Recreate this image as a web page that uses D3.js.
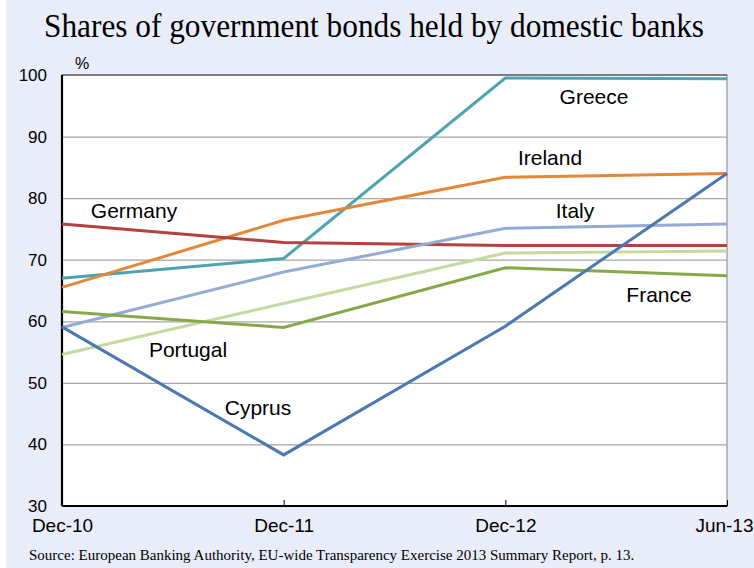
<!DOCTYPE html>
<html>
<head>
<meta charset="utf-8">
<script src="https://cdn.jsdelivr.net/npm/d3@7"></script>
<style>
  body { margin: 0; background: #fff; }
  svg { display: block; }
</style>
</head>
<body>
<div class="chart"></div>
<script>
// data
const periods = ['Dec-10', 'Dec-11', 'Dec-12', 'Jun-13'];
const greece   = [67.0, 70.2, 99.5, 99.4];
const ireland  = [65.5, 76.4, 83.4, 84.0];
const germany  = [75.8, 72.8, 72.3, 72.3];
const italy    = [59.0, 68.0, 75.1, 75.8];
const portugal = [54.6, 62.9, 71.1, 71.4];
const france   = [61.6, 59.0, 68.7, 67.4];
const cyprus   = [59.1, 38.3, 59.2, 84.0];
const yTicks = [30, 40, 50, 60, 70, 80, 90, 100];

let series = [
    {name: 'Greece',   values: greece,   color: '#4ea3b2', lx: 594, ly: 97},
    {name: 'Ireland',  values: ireland,  color: '#e3873b', lx: 550, ly: 158},
    {name: 'Germany',  values: germany,  color: '#b3423f', lx: 134, ly: 211},
    {name: 'Italy',    values: italy,    color: '#93abd6', lx: 575, ly: 211},
    {name: 'Portugal', values: portugal, color: '#c2da9e', lx: 188, ly: 350},
    {name: 'France',   values: france,   color: '#86a84a', lx: 659, ly: 295},
    {name: 'Cyprus',   values: cyprus,   color: '#4a78b0', lx: 258, ly: 408}
];

const W = 754, H = 568;
let margin = {top: 75, right: 27, bottom: 62, left: 62},
    width = W - margin.left - margin.right,
    height = H - margin.top - margin.bottom;

let svg = d3.select('.chart').append('svg')
    .attr('width', W)
    .attr('height', H);

// panel background
svg.append('rect')
    .attr('x', 6).attr('y', 0)
    .attr('width', W - 6).attr('height', H)
    .attr('fill', '#e9edf9');

// title
svg.append('text')
    .attr('x', 44).attr('y', 37)
    .attr('textLength', 660)
    .attr('lengthAdjust', 'spacingAndGlyphs')
    .style('font-family', '"Liberation Serif", "Times New Roman", serif')
    .style('font-size', '33px')
    .attr('fill', '#000')
    .text('Shares of government bonds held by domestic banks');

let g = svg.append('g')
    .attr('transform', 'translate(' + margin.left + ',' + margin.top + ')');

let x = d3.scalePoint()
    .domain(periods)
    .range([0, width]);

let y = d3.scaleLinear()
    .domain([30, 100])
    .range([height, 0]);

// plot area
g.append('rect')
    .attr('width', width).attr('height', height)
    .attr('fill', '#fff')
    .attr('stroke', '#808080')
    .attr('stroke-width', 1);

// gridlines
g.append('g')
    .call(d3.axisLeft(y).tickValues(yTicks.slice(1, -1)).tickSize(-width).tickFormat(''))
    .call(a => a.select('.domain').remove())
    .selectAll('line')
    .attr('stroke', '#a6a6a6')
    .attr('stroke-width', 1.2);

// top border
g.append('line')
    .attr('x1', 0).attr('x2', width)
    .attr('y1', 0).attr('y2', 0)
    .attr('stroke', '#404040').attr('stroke-width', 1.2);

// y labels
let yAxis = g.append('g')
    .call(d3.axisLeft(y).tickValues(yTicks).tickSize(0).tickPadding(15))
    .style('font-family', '"Liberation Sans", Arial, sans-serif')
    .style('font-size', '17px');
yAxis.select('.domain').remove();
yAxis.selectAll('text').attr('fill', '#000');

// x axis with inner ticks
let xAxis = g.append('g')
    .attr('transform', 'translate(0,' + height + ')')
    .call(d3.axisBottom(x).tickSizeInner(-6).tickSizeOuter(0).tickPadding(13))
    .style('font-family', '"Liberation Sans", Arial, sans-serif')
    .style('font-size', '19px');
xAxis.select('.domain').remove();
xAxis.selectAll('line').attr('stroke', '#000');
xAxis.selectAll('text').attr('fill', '#000');
// last label sits against the right edge
xAxis.selectAll('text')
    .filter(d => d === 'Jun-13')
    .attr('text-anchor', 'end')
    .attr('x', W - 1 - margin.left - x('Jun-13'));

// axis lines
g.append('line')
    .attr('x1', 0).attr('x2', 0).attr('y1', 0).attr('y2', height)
    .attr('stroke', '#000').attr('stroke-width', 2.2);
g.append('line')
    .attr('x1', 0).attr('x2', width).attr('y1', height).attr('y2', height)
    .attr('stroke', '#000').attr('stroke-width', 2.2);

// series
let line = d3.line()
    .x((d, i) => x(periods[i]))
    .y(d => y(d));

g.selectAll('.series')
    .data(series)
    .enter()
    .append('path')
    .attr('class', 'series')
    .attr('d', d => line(d.values))
    .attr('fill', 'none')
    .attr('stroke', d => d.color)
    .attr('stroke-width', 3)
    .attr('stroke-linejoin', 'miter');

// labels
svg.selectAll('.lbl')
    .data(series)
    .enter()
    .append('text')
    .attr('class', 'lbl')
    .attr('x', d => d.lx)
    .attr('y', d => d.ly)
    .attr('dy', '0.35em')
    .attr('text-anchor', 'middle')
    .style('font-family', '"Liberation Sans", Arial, sans-serif')
    .style('font-size', '21px')
    .text(d => d.name);

// unit
svg.append('text')
    .attr('x', 75).attr('y', 69)
    .style('font-family', '"Liberation Sans", Arial, sans-serif')
    .style('font-size', '16px')
    .text('%');

// source
svg.append('text')
    .attr('x', 29).attr('y', 560)
    .style('font-family', '"Liberation Serif", "Times New Roman", serif')
    .style('font-size', '15px')
    .text('Source: European Banking Authority, EU-wide Transparency Exercise 2013 Summary Report, p. 13.');
</script>
</body>
</html>
